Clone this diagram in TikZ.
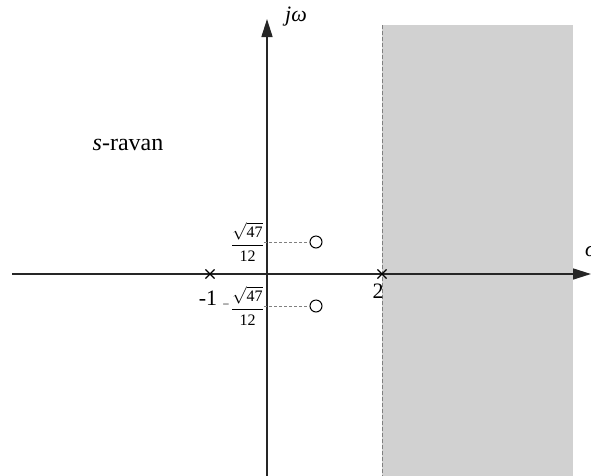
\documentclass[tikz,border=0pt]{standalone}
\usepackage{fontspec}
\usepackage{amsmath}
\setmainfont{Liberation Serif}
\usetikzlibrary{arrows.meta,shapes.misc}
\begin{document}
\begin{tikzpicture}[x=1pt,y=-1pt,
  axis/.style={line width=1.6pt, draw=black!85, -{Triangle[length=18pt,width=11pt]}},
  pole/.style={draw, cross out, minimum size=8pt, inner sep=0pt, line width=1.1pt},
  zero/.style={circle, draw, line width=1pt, minimum size=12pt, inner sep=0pt},
  guide/.style={draw=gray, line width=0.6pt, dash pattern=on 3pt off 2pt},
  lbl/.style={font=\fontsize{22}{26}\selectfont, inner sep=0pt},
  frac/.style={font=\fontsize{16}{18}\selectfont, inner sep=0pt}]
\useasboundingbox (0,0) rectangle (591,475);
\fill[gray!36] (382,25) rectangle (573,478);
\draw[gray, line width=0.8pt, dash pattern=on 4pt off 2pt] (382,25) -- (382,476);
\coordinate (xs) at (12,274);
\coordinate (xe) at (591,274);
\coordinate (ys) at (267,477);
\coordinate (ye) at (267,19);
\draw[axis] (xs) -- (xe);
\draw[axis] (ys) -- (ye);
\node[pole] (p1) at (210,274) {};
\node[pole] (p2) at (382,274) {};
\node[zero] (z1) at (316,242) {};
\node[zero] (z2) at (316,306) {};
\node[frac] (f1) at (247.5,242) {$\displaystyle\frac{\sqrt{\text{47}}}{\text{12}}$};
\node[frac] (f2) at (247.5,306) {$\displaystyle\frac{\sqrt{\text{47}}}{\text{12}}$};
\node[font=\fontsize{12}{14}\selectfont, inner sep=0pt] (m2) at (226,306) {−};
\draw[guide] (f1.east |- z1) -- (z1.west);
\draw[guide] (f2.east |- z2) -- (z2.west);
\node[lbl] (l1) at (208,298) {-1};
\node[lbl] (l2) at (378,291) {2};
\node[lbl, font=\fontsize{24}{28}\selectfont] (sr) at (128,145) {\textit{s}-ravan};
\node[lbl] (jw) at (296,17) {\textit{jω}};
\node[lbl, anchor=west] (sg) at (585,251) {\textit{σ}};
\end{tikzpicture}
\end{document}
